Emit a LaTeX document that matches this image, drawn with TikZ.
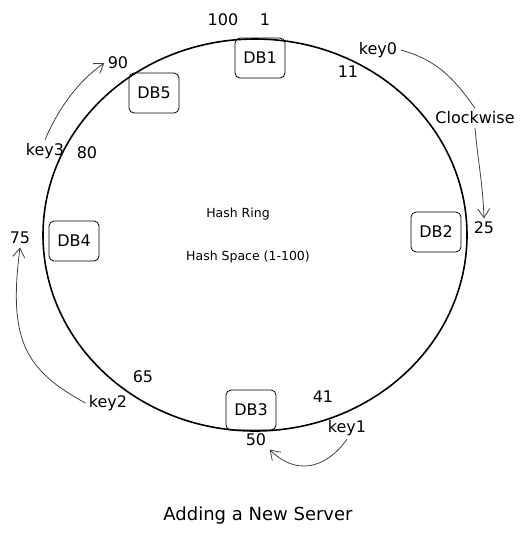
\documentclass[tikz,border=0pt]{standalone}
\usepackage{fontspec}
\setmainfont{DejaVu Sans}
\usetikzlibrary{arrows.meta}

\begin{document}
\begin{tikzpicture}[x=1pt, y=-1pt,
	every node/.style={font=\fontsize{16}{18}\selectfont},
	dbbox/.style={draw, thick, rounded corners=5pt, minimum width=50pt, minimum height=40pt, inner sep=2pt},
	sketcharrow/.style={draw=black!75, thick, -{Straight Barb[length=9pt, width=12pt]}}]
	\useasboundingbox (0,0) rectangle (528,539);
	% hash ring
	\draw[line width=1.6pt] (255,235) ellipse [x radius=212, y radius=196];
	% servers on the ring
	\node[dbbox] (db1) at (260,58) {DB1};
	\node[dbbox] (db2) at (436,232) {DB2};
	\node[dbbox] (db3) at (251,410) {DB3};
	\node[dbbox] (db4) at (74,241) {DB4};
	\node[dbbox] (db5) at (154,93) {DB5};
	% positions in the hash space
	\node (n100) at (223,20) {100};
	\node (n1) at (265,20) {1};
	\node (n11) at (348,72) {11};
	\node (n25) at (484,228) {25};
	\node (n41) at (323,397) {41};
	\node (n50) at (256,440) {50};
	\node (n65) at (143,377) {65};
	\node (n75) at (20,238) {75};
	\node (n80) at (87,153) {80};
	\node (n90) at (118,63) {90};
	% keys
	\node (key0) at (378,50) {key0};
	\node (key1) at (347,428) {key1};
	\node (key2) at (108,403) {key2};
	\node (key3) at (45,151) {key3};
	\node (clk) at (475,118) {Clockwise};
	% texts
	\node[font=\fontsize{12.5}{14}\selectfont] (ring) at (238,214) {Hash Ring};
	\node[font=\fontsize{12.5}{14}\selectfont] (space) at (248,257) {Hash Space (1-100)};
	\node[font=\fontsize{18}{20}\selectfont] (title) at (258,516) {Adding a New Server};
	% key lookups
	\draw[draw=black!75, thick] (key0.east) to[out=-15, in=125] (clk.north);
	\draw[sketcharrow] (clk.south) to[out=-85, in=92] (n25.north);
	\draw[sketcharrow] (key3.north) .. controls (60,105) and (80,80) .. (n90.west);
	\draw[sketcharrow] (key2.west) .. controls (25,370) and (8,340) .. (n75.south);
	\draw[sketcharrow] (key1.south) .. controls (325,470) and (295,475) .. (n50.south east);
\end{tikzpicture}
\end{document}
